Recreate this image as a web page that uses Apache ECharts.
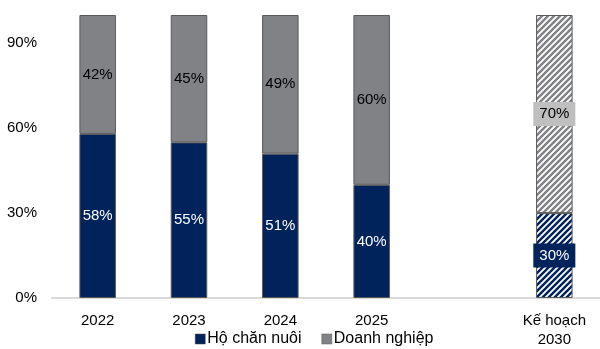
<!DOCTYPE html>
<html>
<head>
<meta charset="utf-8">
<script src="https://cdn.jsdelivr.net/npm/echarts@6/dist/echarts.min.js"></script>
<style>
  html, body { margin: 0; padding: 0; background: #fff; }
  #chart { width: 600px; height: 349px; }
</style>
</head>
<body>
<div id="chart"></div>
<script>
// categories (empty slot = gap before the 2030 plan)
const categories = ['2022', '2023', '2024', '2025', '', 'Kế hoạch\n2030']
const hoChanNuoi = [58, 55, 51, 40, null, 30]
const doanhNghiep = [42, 45, 49, 60, null, 70]
const planIndex = 5

const NAVY = '#00235b'
const GRAY = '#808285'
const FONT = 'Liberation Sans, Arial, sans-serif'

// diagonal stripe tile for the planned bar
function stripes (color) {
  let c = document.createElement('canvas')
  c.width = 6
  c.height = 6
  let ctx = c.getContext('2d')
  ctx.fillStyle = '#fff'
  ctx.fillRect(0, 0, 6, 6)
  ctx.strokeStyle = color
  ctx.lineWidth = 2.4
  ctx.beginPath()
  ctx.moveTo(-3, 9); ctx.lineTo(9, -3)
  ctx.moveTo(-6, 6); ctx.lineTo(6, -6)
  ctx.moveTo(0, 12); ctx.lineTo(12, 0)
  ctx.stroke()
  return c
}

function build (values, color, textColor, planBg) {
  return values.map((v, i) => {
    if (v === null) return '-'
    if (i !== planIndex) return v
    return {
      value: v,
      itemStyle: { color: { image: stripes(color), repeat: 'repeat' } },
      label: {
        color: textColor,
        backgroundColor: planBg,
        padding: [5, 6, 4, 6]
      }
    }
  })
}

let myChart = echarts.init(document.getElementById('chart'))
let option = {
  animation: false,
  textStyle: { fontFamily: FONT },
  grid: {
    left: 52,
    right: -4,
    top: 15,
    bottom: 51
  },
  legend: {
    bottom: -3,
    left: 190,
    icon: 'rect',
    itemWidth: 10,
    itemHeight: 10,
    itemGap: 20,
    data: [
      { name: 'Hộ chăn nuôi', itemStyle: { color: NAVY, borderColor: '#404040', borderWidth: 0.5 } },
      { name: 'Doanh nghiệp', itemStyle: { color: GRAY, borderColor: '#595959', borderWidth: 0.5 } }
    ],
    textStyle: { fontFamily: FONT, fontSize: 16, color: '#000', padding: [0, 0, 0, -3] }
  },
  xAxis: {
    type: 'category',
    data: categories,
    axisTick: { show: false },
    axisLine: { lineStyle: { color: '#d9d9d9', width: 2 } },
    axisLabel: {
      color: '#000',
      fontSize: 15,
      fontFamily: FONT,
      margin: 13,
      lineHeight: 19,
      interval: 0
    }
  },
  yAxis: {
    type: 'value',
    min: 0,
    max: 100,
    interval: 30,
    axisLine: { show: false },
    axisTick: { show: false },
    splitLine: { show: false },
    axisLabel: {
      color: '#000',
      fontSize: 15,
      fontFamily: FONT,
      margin: 15,
      showMaxLabel: false,
      formatter: '{value}%'
    }
  },
  series: [
    {
      name: 'Hộ chăn nuôi',
      type: 'bar',
      stack: 'total',
      barWidth: '40%',
      itemStyle: { color: NAVY, borderColor: '#595959', borderWidth: 1 },
      label: { show: true, position: 'inside', color: '#fff', fontSize: 15, fontFamily: FONT, formatter: '{c}%' },
      data: build(hoChanNuoi, NAVY, '#fff', NAVY)
    },
    {
      name: 'Doanh nghiệp',
      type: 'bar',
      stack: 'total',
      barWidth: '40%',
      itemStyle: { color: GRAY, borderColor: '#595959', borderWidth: 1 },
      label: { show: true, position: 'inside', color: '#000', fontSize: 15, fontFamily: FONT, formatter: '{c}%' },
      data: build(doanhNghiep, GRAY, '#000', '#bfbfbf')
    }
  ]
}
myChart.setOption(option)
</script>
</body>
</html>
